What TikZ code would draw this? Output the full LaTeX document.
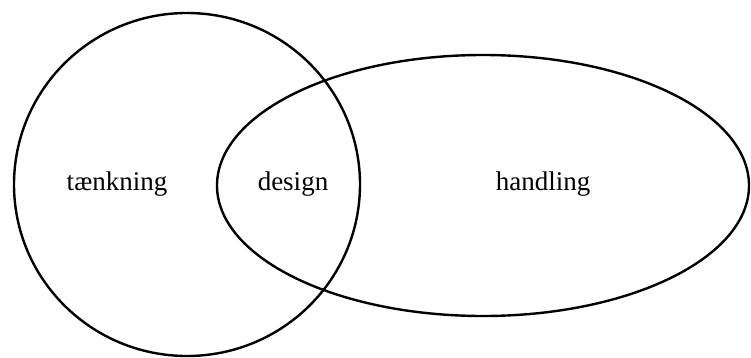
\documentclass[tikz,border=0pt]{standalone}
\usepackage{fontspec}
\setmainfont{Liberation Serif}
\begin{document}
\begin{tikzpicture}[x=1pt,y=-1pt,
  setshape/.style={draw=black,line width=2.4pt},
  lbl/.style={font=\fontsize{27}{31}\selectfont,inner sep=0pt}]
\useasboundingbox (0,0) rectangle (751,358);
\draw[setshape] (187,184.5) ellipse [x radius=173, y radius=171.5];
\draw[setshape] (483,185.5) ellipse [x radius=266, y radius=130.5];
\node[lbl,anchor=base] (t) at (117,190) {tænkning};
\node[lbl,anchor=base] (d) at (293,190) {design};
\node[lbl,anchor=base] (h) at (543,190) {handling};
\end{tikzpicture}
\end{document}
